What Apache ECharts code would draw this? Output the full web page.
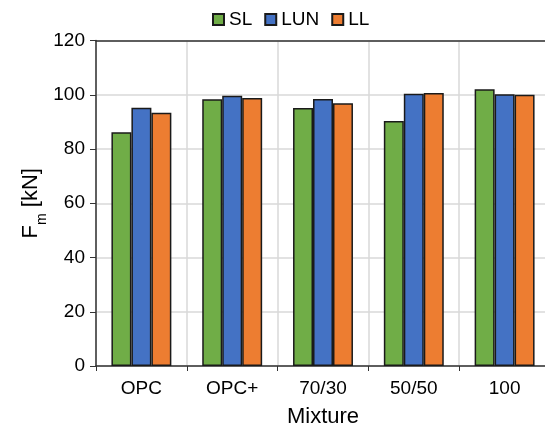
<!DOCTYPE html>
<html>
<head>
<meta charset="utf-8">
<script src="https://cdn.jsdelivr.net/npm/echarts@6/dist/echarts.min.js"></script>
<style>
	html, body { margin: 0; padding: 0; background: #fff; }
	#chart { width: 545px; height: 428px; }
</style>
</head>
<body>
<div id="chart"></div>
<script>
var categories = ["OPC", "OPC+", "70/30", "50/50", "100"];
var slValues = [86.2, 98.3, 95.1, 90.3, 102.0];
var lunValues = [95.2, 99.6, 98.4, 100.4, 100.2];
var llValues = [93.4, 98.8, 96.9, 100.6, 100.0];
var yTicks = [0, 20, 40, 60, 80, 100, 120];

var font = "Liberation Sans, Arial, sans-serif";

function bar(name, data, color) {
	return {
		name: name,
		type: "bar",
		data: data,
		barGap: "0%",
		barCategoryGap: "34%",
		itemStyle: { color: color, borderColor: "#1a1a1a", borderWidth: 1.5 }
	};
}

var myChart = echarts.init(document.getElementById("chart"));

var option = {
	animation: false,
	legend: {
		top: 5,
		left: 207,
		itemWidth: 11,
		itemHeight: 11,
		itemGap: 12,
		icon: "rect",
		textStyle: { fontFamily: font, fontSize: 19, color: "#000" },
		data: ["SL", "LUN", "LL"]
	},
	grid: { left: 96, top: 40.5, width: 454, height: 325.5, containLabel: false, outerBoundsMode: "none" },
	xAxis: [{
		type: "category",
		data: categories,
		name: "Mixture",
		nameLocation: "middle",
		nameGap: 40,
		nameTextStyle: { fontFamily: font, fontSize: 22, color: "#000" },
		axisLine: { lineStyle: { color: "#333", width: 1.5 } },
		axisTick: { show: true, inside: false, length: 5, lineStyle: { color: "#333" } },
		axisLabel: { fontFamily: font, fontSize: 19, color: "#000", margin: 13 },
		splitLine: { show: true, lineStyle: { color: "#d9d9d9", width: 1.5 } }
	}, {
		type: "category",
		data: categories,
		position: "top",
		axisLine: { lineStyle: { color: "#333", width: 1.5 } },
		axisTick: { show: false },
		axisLabel: { show: false }
	}],
	yAxis: {
		type: "value",
		min: yTicks[0],
		max: yTicks[yTicks.length - 1],
		interval: 20,
		name: "{a|F}{b|m}{a| [kN]}",
		nameLocation: "middle",
		nameGap: 54,
		nameMoveOverlap: false,
		nameTextStyle: {
			rich: {
				a: { fontFamily: font, fontSize: 22, color: "#000" },
				b: { fontFamily: font, fontSize: 14, color: "#000", verticalAlign: "bottom", padding: [0, 0, -7, 0] }
			}
		},
		axisLine: { show: true, lineStyle: { color: "#333", width: 1.5 } },
		axisTick: { show: true, inside: false, length: 6, lineStyle: { color: "#333" } },
		axisLabel: { fontFamily: font, fontSize: 19, color: "#000", margin: 11 },
		splitLine: { show: true, lineStyle: { color: "#d9d9d9", width: 1.5 } }
	},
	series: [
		bar("SL", slValues, "#70AD47"),
		bar("LUN", lunValues, "#4472C4"),
		bar("LL", llValues, "#ED7D31")
	]
};

myChart.setOption(option);
</script>
</body>
</html>
